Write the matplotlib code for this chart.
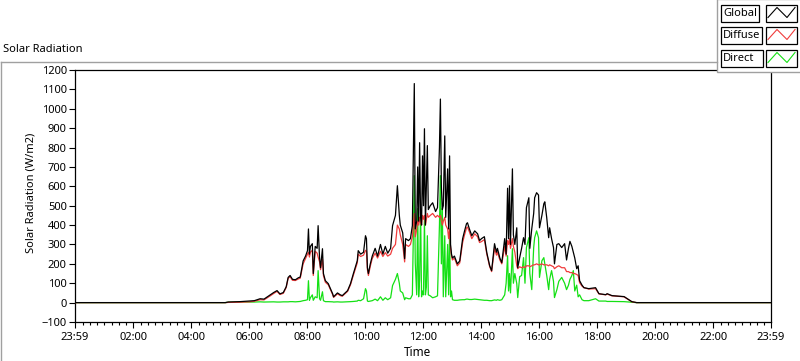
import matplotlib
matplotlib.use("Agg")
import matplotlib.pyplot as plt
from matplotlib.patches import Rectangle

# ---------------- data ----------------
times = ["00:00", "05:10", "05:16", "05:40", "06:00", "06:10", "06:22", "06:30", "06:43", "06:50",
         "06:57", "07:03", "07:10", "07:16", "07:20", "07:24", "07:29", "07:35", "07:41", "07:45",
         "07:51", "07:56", "08:00", "08:02", "08:04", "08:06", "08:10", "08:12", "08:16", "08:20",
         "08:22", "08:25", "08:27", "08:31", "08:33", "08:37", "08:43", "08:52", "08:54", "09:02",
         "09:08", "09:12", "09:23", "09:29", "09:35", "09:43", "09:45", "09:50", "09:56", "10:00",
         "10:02", "10:04", "10:06", "10:10", "10:14", "10:20", "10:25", "10:31", "10:36", "10:41",
         "10:46", "10:52", "10:56", "11:02", "11:06", "11:10", "11:12", "11:17", "11:21", "11:23",
         "11:29", "11:33", "11:37", "11:41", "11:43", "11:46", "11:48", "11:50", "11:52", "11:54",
         "11:56", "11:58", "12:00", "12:02", "12:04", "12:06", "12:08", "12:10", "12:14", "12:19",
         "12:25", "12:29", "12:33", "12:35", "12:37", "12:39", "12:41", "12:44", "12:46", "12:50",
         "12:52", "12:54", "12:56", "12:58", "13:00", "13:04", "13:10", "13:15", "13:21", "13:25",
         "13:29", "13:31", "13:35", "13:40", "13:46", "13:52", "13:56", "14:00", "14:06", "14:11",
         "14:17", "14:21", "14:27", "14:31", "14:33", "14:38", "14:42", "14:48", "14:51", "14:54",
         "14:56", "14:58", "15:00", "15:04", "15:06", "15:09", "15:13", "15:15", "15:19", "15:23",
         "15:27", "15:30", "15:33", "15:38", "15:40", "15:44", "15:48", "15:50", "15:54", "15:58",
         "16:00", "16:05", "16:09", "16:11", "16:15", "16:19", "16:21", "16:25", "16:29", "16:31",
         "16:36", "16:40", "16:46", "16:52", "16:56", "17:00", "17:03", "17:07", "17:10", "17:13",
         "17:17", "17:20", "17:23", "17:28", "17:32", "17:42", "17:56", "18:03", "18:17", "18:20",
         "18:30", "18:55", "19:05", "19:11", "19:21", "23:59"]

global_rad = [0, 0, 3, 5, 8, 10, 20, 18, 40, 52,
              62, 45, 52, 82, 130, 140, 120, 118, 128, 132,
              215, 240, 268, 380, 250, 290, 304, 150, 290, 280,
              397, 230, 180, 278, 150, 113, 98, 46, 30, 50,
              40, 36, 62, 98, 150, 216, 268, 250, 260, 345,
              330, 180, 150, 200, 240, 280, 240, 300, 250, 290,
              255, 280, 397, 450, 603, 450, 400, 360, 227, 330,
              320, 330, 397, 1130, 380, 420, 700, 420, 825, 440,
              400, 757, 500, 897, 400, 600, 810, 480, 500, 515,
              470, 490, 800, 1050, 600, 480, 500, 860, 440, 690,
              380, 757, 300, 250, 230, 240, 200, 215, 330, 370,
              407, 412, 380, 345, 370, 355, 320, 330, 340, 258,
              190, 165, 304, 260, 280, 230, 206, 330, 250, 590,
              330, 603, 300, 690, 350, 300, 386, 180, 232, 280,
              335, 300, 490, 541, 280, 380, 460, 541, 567, 555,
              386, 450, 510, 520, 438, 335, 386, 330, 284, 200,
              300, 304, 284, 304, 220, 280, 316, 290, 260, 230,
              175, 190, 113, 90, 77, 72, 77, 46, 41, 46,
              36, 31, 15, 5, 0, 0]

diffuse_rad = [0, 0, 1, 2, 4, 7, 15, 14, 35, 47,
               58, 42, 48, 78, 125, 134, 115, 114, 122, 126,
               200, 228, 250, 260, 235, 260, 270, 140, 265, 255,
               235, 210, 170, 225, 140, 105, 92, 42, 27, 45,
               36, 33, 58, 92, 142, 205, 250, 238, 245, 270,
               265, 170, 140, 188, 228, 255, 230, 265, 238, 258,
               240, 250, 280, 300, 400, 380, 350, 300, 210, 300,
               290, 300, 340, 460, 340, 380, 420, 400, 440, 410,
               400, 450, 430, 450, 400, 430, 460, 440, 450, 460,
               440, 450, 440, 450, 430, 400, 420, 440, 400, 380,
               330, 380, 280, 240, 220, 230, 190, 205, 310, 350,
               385, 390, 365, 330, 355, 340, 310, 315, 325, 250,
               185, 160, 280, 245, 260, 220, 200, 290, 240, 320,
               300, 330, 280, 330, 290, 260, 190, 175, 185, 180,
               185, 180, 190, 190, 185, 190, 195, 195, 200, 195,
               195, 200, 195, 195, 195, 190, 195, 190, 185, 175,
               185, 190, 180, 180, 160, 160, 155, 155, 150, 150,
               145, 140, 103, 85, 77, 70, 72, 45, 40, 44,
               35, 30, 14, 4, 0, 0]

direct_rad = [0, 0, 2, 3, 3, 3, 4, 3, 4, 4,
              3, 3, 4, 4, 4, 5, 5, 4, 5, 6,
              10, 12, 15, 113, 12, 25, 40, 12, 30, 25,
              165, 20, 12, 56, 10, 5, 5, 4, 3, 4,
              3, 3, 4, 5, 6, 8, 12, 10, 20, 72,
              60, 8, 6, 8, 10, 18, 10, 30, 12, 25,
              15, 25, 88, 120, 150, 100, 60, 50, 15, 25,
              20, 20, 40, 655, 205, 40, 485, 30, 120, 485,
              30, 60, 40, 433, 40, 80, 345, 40, 35, 25,
              30, 35, 397, 655, 200, 485, 30, 345, 30, 300,
              40, 345, 30, 60, 15, 12, 12, 14, 15, 15,
              18, 18, 16, 16, 18, 16, 15, 14, 12, 12,
              10, 10, 14, 12, 15, 12, 15, 40, 100, 242,
              60, 150, 50, 278, 100, 150, 98, 26, 134, 140,
              232, 100, 284, 335, 150, 67, 284, 335, 370, 335,
              130, 216, 232, 200, 140, 67, 120, 165, 110, 26,
              67, 110, 130, 100, 67, 90, 120, 140, 165, 60,
              90, 30, 40, 15, 10, 10, 20, 8, 8, 6,
              6, 5, 3, 2, 0, 0]

x_tick_labels = ["23:59", "02:00", "04:00", "06:00", "08:00", "10:00", "12:00",
                 "14:00", "16:00", "18:00", "20:00", "22:00", "23:59"]
series_names = ["Global", "Diffuse", "Direct"]

# ---------------- style ----------------
W, H = 800, 361
C_GLOBAL, C_DIFFUSE, C_DIRECT = "#000000", "#f03c3c", "#14e014"
GRAY = "#a0a0a0"
FS = 8

plt.rcParams['font.family'] = ['Noto Sans', 'DejaVu Sans']


def to_min(s):
    h, m = s.split(":")
    return int(h) * 60 + int(m)


t = [to_min(s) for s in times]

fig = plt.figure(figsize=(W / 100, H / 100), dpi=100)
fig.patch.set_facecolor("white")


def fx(px):
    return px / W


def fy(py):
    return 1 - py / H


ax = fig.add_axes([fx(75), fy(322), fx(771) - fx(75), fy(70) - fy(322)])
ax.plot(t, direct_rad, color=C_DIRECT, lw=0.9, zorder=2)
ax.plot(t, diffuse_rad, color=C_DIFFUSE, lw=0.9, zorder=3)
ax.plot(t, global_rad, color=C_GLOBAL, lw=0.9, zorder=4)

ax.set_xlim(-1, 1439)
ax.set_ylim(-100, 1200)
major = [-1] + list(range(120, 1440, 120)) + [1439]
ax.set_xticks(major)
ax.set_xticklabels(x_tick_labels)
ax.set_xticks([m for m in range(15, 1439, 15) if m % 120 != 0], minor=True)
ax.set_yticks(range(-100, 1201, 100))
ax.tick_params(axis="both", which="major", direction="out", labelsize=FS, colors="black")
ax.tick_params(axis="y", which="major", length=4.5, width=0.8, pad=1.5)
ax.tick_params(axis="x", which="major", length=4, width=0.8, pad=3)
ax.tick_params(axis="x", which="minor", length=2.2, width=0.8)
for sp in ax.spines.values():
    sp.set_color("black")
    sp.set_linewidth(0.9)

# ---------------- overlay in pixel coordinates ----------------
ov = fig.add_axes([0, 0, 1, 1])
ov.set_xlim(0, W)
ov.set_ylim(H, 0)
ov.axis("off")
ov.set_zorder(10)
ov.patch.set_alpha(0)

# outer gray frame
ov.plot([0.5, 0.5], [62, H], color=GRAY, lw=1)
ov.plot([0.5, 717], [62, 62], color=GRAY, lw=1)

ov.text(3, 50, "Solar Radiation", fontsize=FS, ha="left", va="center")
ov.text(31, 193, "Solar Radiation (W/m2)", fontsize=FS, ha="center", va="center", rotation=90)
ov.text(418, 353, "Time", fontsize=FS + 0.5, ha="center", va="center")

# legend panel
ov.add_patch(Rectangle((717, -1), 85, 73, facecolor="white", edgecolor=GRAY, lw=1, zorder=1))
row_tops = [5, 27, 50]
label_right = [759, 762, 763]
colors = [C_GLOBAL, C_DIFFUSE, C_DIRECT]
for name, top, rgt, col in zip(series_names, row_tops, label_right, colors):
    ov.add_patch(Rectangle((721, top), rgt - 721, 17, facecolor="white", edgecolor="black", lw=0.9, zorder=2))
    ov.text(723, top + 8.5, name, fontsize=FS, ha="left", va="center", zorder=3)
    ov.add_patch(Rectangle((766, top), 31, 17, facecolor="white", edgecolor="black", lw=0.9, zorder=2))
    ov.plot([768, 777, 787, 795], [top + 12.5, top + 2.5, top + 12.5, top + 2.5], color=col, lw=0.8, zorder=3)

fig.savefig("out.png", dpi=100, facecolor="white")
